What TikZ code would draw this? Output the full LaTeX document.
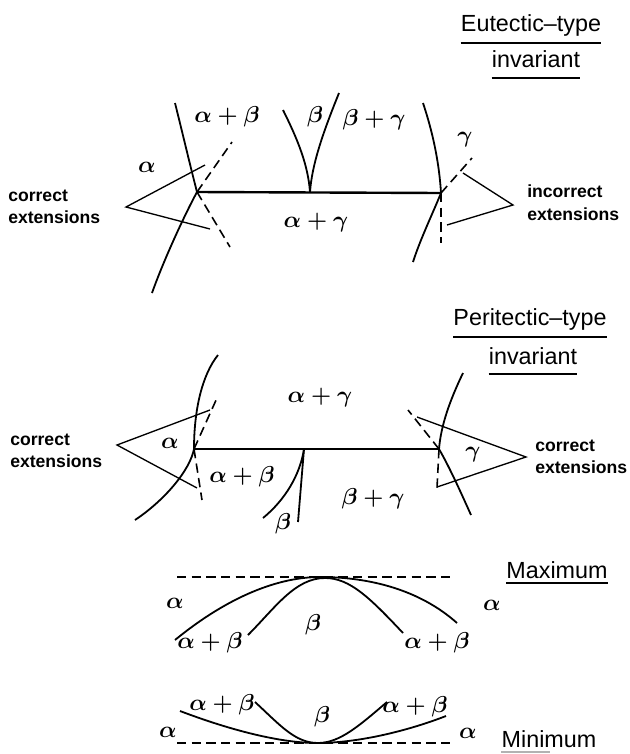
\documentclass[tikz,border=0pt]{standalone}
\usepackage{fontspec}
\setmainfont{Liberation Sans}
\usetikzlibrary{calc}

\begin{document}
\begin{tikzpicture}[
  x=0.75pt, y=-0.75pt,
  bnd/.style={line width=1.35pt},
  inv/.style={line width=1.8pt},
  ext/.style={line width=1.2pt, dash pattern=on 7pt off 4pt},
  lead/.style={line width=1pt},
  ph/.style={font=\fontsize{16}{18}\selectfont\boldmath, inner sep=0pt},
  note/.style={font=\bfseries\fontsize{13.2}{17}\selectfont, align=left, anchor=west, inner sep=0pt},
  ttl/.style={font=\fontsize{17.5}{20}\selectfont, anchor=base, inner sep=0pt},
  ul/.style={line width=1.2pt}
]
\useasboundingbox (0,0) rectangle (630,754);

% ---- eutectic-type invariant
\node[ttl] (tEu) at (531,31) {Eutectic--type};
\node[ttl] (tEinv) at (536,67) {invariant};
\draw[ul] ($(tEu.base west)+(0,12)$) -- ($(tEu.base east)+(0,12)$);
\draw[ul] ($(tEinv.base west)+(0,11)$) -- ($(tEinv.base east)+(0,11)$);

\coordinate (eL) at (197,192);
\coordinate (eB) at (310,192);
\coordinate (eR) at (441,193);
\draw[inv] (eL) -- (eR);
\draw[bnd] (175,103) .. controls (183,135) and (190,165) .. (eL);
\draw[bnd] (eL) .. controls (183,218) and (163,262) .. (152,293);
\draw[bnd] (283,110) .. controls (298,140) and (308,165) .. (eB);
\draw[bnd] (339,93) .. controls (322,135) and (312,165) .. (eB);
\draw[bnd] (423,103) .. controls (432,130) and (439,160) .. (eR);
\draw[bnd] (eR) .. controls (432,215) and (420,240) .. (413,262);
\draw[ext] (eL) -- (232,142);
\draw[ext] (eL) -- (230,247);
\draw[ext] (eR) -- (472,158);
\draw[ext] (eR) -- (441,243);

\node[note] (cE) at (8,207) {correct\\extensions};
\coordinate (cEa) at (126,207);
\draw[lead] (205,165) -- (cEa) -- (210,229);
\node[note] (iE) at (527,203) {incorrect\\extensions};
\coordinate (iEa) at (513,205);
\draw[lead] (463,173) -- (iEa) -- (447,225);

\node[ph] (eA) at (147,167) {$\alpha$};
\node[ph] (eAB) at (227,117) {$\alpha+\beta$};
\node[ph] (eBt) at (315,117) {$\beta$};
\node[ph] (eBG) at (374,120) {$\beta+\gamma$};
\node[ph] (eG) at (465,140) {$\gamma$};
\node[ph] (eAG) at (316,223) {$\alpha+\gamma$};

% ---- peritectic-type invariant
\node[ttl] (tPe) at (530,325) {Peritectic--type};
\node[ttl] (tPinv) at (533,364) {invariant};
\draw[ul] ($(tPe.base west)+(0,12)$) -- ($(tPe.base east)+(0,12)$);
\draw[ul] ($(tPinv.base west)+(0,10)$) -- ($(tPinv.base east)+(0,10)$);

\coordinate (pL) at (194,449);
\coordinate (pB) at (304,449);
\coordinate (pR) at (439,449);
\draw[inv] (pL) -- (pR);
\draw[bnd] (218,355) .. controls (202,375) and (194,410) .. (pL);
\draw[bnd] (pL) .. controls (190,470) and (165,500) .. (135,520);
\draw[bnd] (pB) -- (298,522);
\draw[bnd] (pB) .. controls (300,475) and (285,500) .. (263,518);
\draw[bnd] (463,373) .. controls (450,400) and (441,425) .. (pR);
\draw[bnd] (pR) .. controls (450,468) and (462,495) .. (471,515);
\draw[ext] (pL) -- (217,398);
\draw[ext] (pL) -- (202,500);
\draw[ext] (pR) -- (408,410);
\draw[ext] (pR) -- (437,488);

\node[note] (cPl) at (10,451) {correct\\extensions};
\coordinate (cPla) at (117,445);
\draw[lead] (210,410) -- (cPla) -- (197,488);
\node[note] (cPr) at (535,457) {correct\\extensions};
\coordinate (cPra) at (526,457);
\draw[lead] (417,417) -- (cPra) -- (437,487);

\node[ph] (pA) at (170,443) {$\alpha$};
\node[ph] (pAB) at (242,477) {$\alpha+\beta$};
\node[ph] (pBt) at (283,524) {$\beta$};
\node[ph] (pBG) at (373,499) {$\beta+\gamma$};
\node[ph] (pAG) at (320,398) {$\alpha+\gamma$};
\node[ph] (pG) at (473,455) {$\gamma$};

% ---- maximum
\node[ttl] (tMax) at (557,578) {Maximum};
\draw[ul] ($(tMax.base west)+(0,5)$) -- ($(tMax.base east)+(0,5)$);
\draw[ext] (177,577) -- (453,577);
\draw[bnd] (175,640) .. controls (230,595) and (280,577) .. (320,577)
  .. controls (370,577) and (420,590) .. (457,623);
\draw[bnd] (248,635) .. controls (275,608) and (295,578) .. (325,578)
  .. controls (350,578) and (370,598) .. (403,633);
\node[ph] (mxA1) at (175,603) {$\alpha$};
\node[ph] (mxA2) at (492,605) {$\alpha$};
\node[ph] (mxB) at (313,625) {$\beta$};
\node[ph] (mxAB1) at (210,643) {$\alpha+\beta$};
\node[ph] (mxAB2) at (437,643) {$\alpha+\beta$};

% ---- minimum
\node[ttl] (tMin) at (549,747) {Minimum};
\draw[ul, gray!60] ($(tMin.base west)+(0,5)$) -- ($(tMin.base west)+(49,5)$);
\draw[ext] (177,743) -- (450,743);
\draw[bnd] (180,711) .. controls (230,730) and (280,743) .. (317,743)
  .. controls (360,743) and (410,730) .. (446,716);
\draw[bnd] (255,702) .. controls (280,725) and (295,743) .. (318,743)
  .. controls (340,743) and (360,725) .. (387,702);
\node[ph] (mnAB1) at (222,705) {$\alpha+\beta$};
\node[ph] (mnB) at (322,717) {$\beta$};
\node[ph] (mnAB2) at (415,707) {$\alpha+\beta$};
\node[ph] (mnA1) at (168,732) {$\alpha$};
\node[ph] (mnA2) at (468,733) {$\alpha$};
\end{tikzpicture}
\end{document}
